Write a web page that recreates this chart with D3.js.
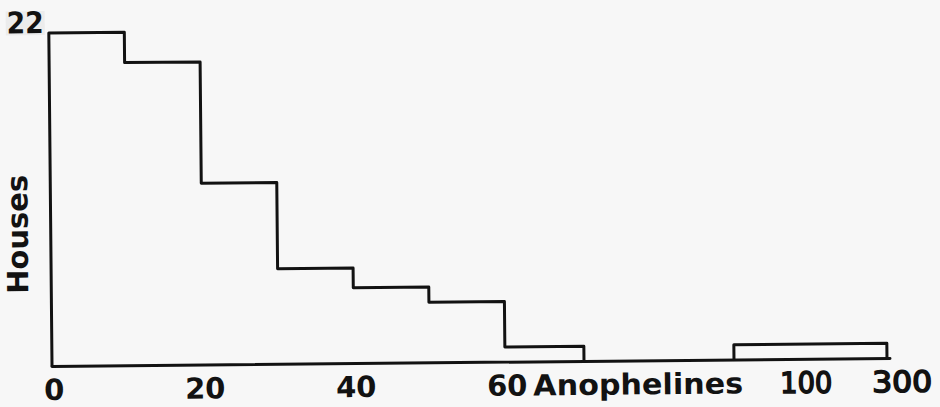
<!DOCTYPE html>
<html>
<head>
<meta charset="utf-8">
<script src="https://cdn.jsdelivr.net/npm/d3@7"></script>
<style>
  html, body { margin: 0; padding: 0; background: #f7f7f7; }
  svg { display: block; }
</style>
</head>
<body>
<svg id="chart" width="940" height="407"></svg>
<script>
// Houses by number of anophelines caught (bins of 10, plus one 100–300 bin)
const binEdges = [0, 10, 20, 30, 40, 50, 60, 70];
const houses = [22, 20, 12, 6.3, 5, 4, 1];
const tailBin = [100, 300];
const tailHouses = 1;

const xTickValues = [0, 20, 40, 60];
const xTickLabels = ["0", "20", "40", "60"];
const tailTickValues = [100, 300];
const tailTickLabels = ["100", "300"];
const yTickValues = [22];
const yTickLabels = ["22"];

const W = 940, H = 407;
const ink = "#121212";
const font = "'DejaVu Sans', Verdana, sans-serif";

const svg = d3.select("#chart");

svg.append("rect")
  .attr("width", W).attr("height", H)
  .attr("fill", "#f7f7f7");

// broken axis: linear 0–70, then a gap, then the 100–300 bin
const x = d3.scaleLinear()
  .domain([0, 60, 70, 100, 300])
  .range([52, 505, 584, 734, 887]);
const y = d3.scaleLinear()
  .domain([0, 22])
  .range([362.5, 29]);

// the printed figure sits slightly askew on the page
const g = svg.append("g")
  .attr("transform", "rotate(-0.55, 470, 362.5)");

const step = d3.line()
  .x(d => x(d[0]))
  .y(d => y(d[1]))
  .curve(d3.curveStepAfter);

// main histogram outline
const mainPts = [[binEdges[0], 0]]
  .concat(houses.map((h, i) => [binEdges[i], h]))
  .concat([[binEdges[binEdges.length - 1], 0]]);

g.append("path")
  .attr("d", step(mainPts))
  .attr("fill", "none")
  .attr("stroke", ink)
  .attr("stroke-width", 3)
  .attr("stroke-linejoin", "round");

// tail bin
const tailPts = [[tailBin[0], 0], [tailBin[0], tailHouses], [tailBin[1], 0]];
g.append("path")
  .attr("d", step(tailPts))
  .attr("fill", "none")
  .attr("stroke", ink)
  .attr("stroke-width", 3)
  .attr("stroke-linejoin", "round");

// baseline
g.append("line")
  .attr("x1", x(0)).attr("x2", x(300) + 3)
  .attr("y1", y(0)).attr("y2", y(0))
  .attr("stroke", ink)
  .attr("stroke-width", 3)
  .attr("stroke-linecap", "round");

// y tick label
yTickValues.forEach((v, i) => {
  g.append("rect")
    .attr("x", x(0) - 43).attr("y", y(v) - 22)
    .attr("width", 39).attr("height", 24)
    .attr("fill", "#ececec");
  g.append("text")
    .attr("x", x(0) - 5)
    .attr("y", y(v))
    .attr("text-anchor", "end")
    .attr("font-family", font)
    .attr("font-weight", "bold")
    .attr("font-size", 30)
    .attr("textLength", 37)
    .attr("lengthAdjust", "spacingAndGlyphs")
    .attr("fill", ink)
    .text(yTickLabels[i]);
});

// y title
g.append("text")
  .attr("transform", "translate(29, 230) rotate(-90)")
  .attr("text-anchor", "middle")
  .attr("font-family", font)
  .attr("font-weight", "bold")
  .attr("font-size", 29)
  .attr("fill", ink)
  .text("Houses");

// x tick labels
const labelY = 396;
const labelSize = 29;
xTickValues.forEach((v, i) => {
  g.append("text")
    .attr("x", x(v) + 2)
    .attr("y", labelY)
    .attr("text-anchor", "middle")
    .attr("font-family", font)
    .attr("font-weight", "bold")
    .attr("font-size", labelSize)
    .attr("fill", ink)
    .text(xTickLabels[i]);
});

// x title
g.append("text")
  .attr("x", x(60) + 28)
  .attr("y", labelY)
  .attr("text-anchor", "start")
  .attr("font-family", font)
  .attr("font-weight", "bold")
  .attr("font-size", labelSize)
  .attr("textLength", 210)
  .attr("lengthAdjust", "spacingAndGlyphs")
  .attr("fill", ink)
  .text("Anophelines");

// tail tick labels
g.append("text")
  .attr("x", x(tailTickValues[0]) + 46)
  .attr("y", labelY)
  .attr("text-anchor", "start")
  .attr("font-family", font)
  .attr("font-size", labelSize)
  .attr("textLength", 52)
  .attr("lengthAdjust", "spacingAndGlyphs")
  .attr("fill", ink)
  .attr("stroke", ink)
  .attr("stroke-width", 1.6)
  .text(tailTickLabels[0]);

g.append("text")
  .attr("x", x(tailTickValues[1]) + 15)
  .attr("y", labelY)
  .attr("text-anchor", "middle")
  .attr("font-family", font)
  .attr("font-size", labelSize)
  .attr("textLength", 60)
  .attr("lengthAdjust", "spacingAndGlyphs")
  .attr("fill", ink)
  .attr("stroke", ink)
  .attr("stroke-width", 1.6)
  .text(tailTickLabels[1]);
</script>
</body>
</html>
